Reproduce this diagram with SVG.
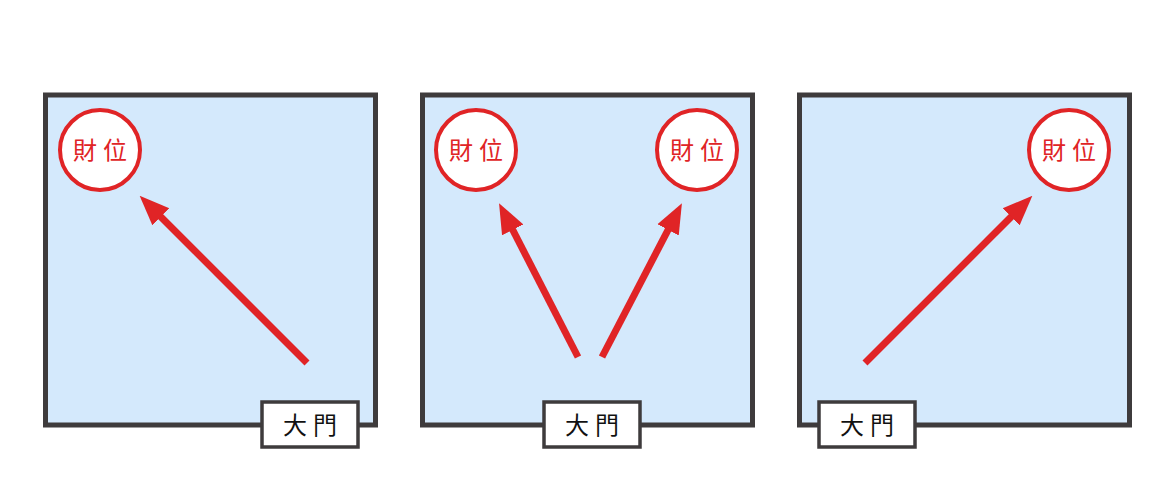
<svg xmlns="http://www.w3.org/2000/svg" width="1174" height="500" viewBox="0 0 1174 500">
<style>
.room{fill:#d4e9fc;stroke:#3e3b3c;stroke-width:5}
.door{fill:#fff;stroke:#3e3b3c;stroke-width:3.5}
.dt{font-family:"Noto Sans CJK TC","Noto Sans CJK SC",sans-serif;font-size:24px;fill:#111;text-anchor:middle;letter-spacing:6px}
.spot{fill:#fff;stroke:#e02426;stroke-width:4}
.st{font-family:"Noto Sans CJK TC","Noto Sans CJK SC",sans-serif;font-size:24px;fill:#e02426;text-anchor:middle;letter-spacing:6px}
.arr{stroke:#e02426;stroke-width:7;fill:none;marker-end:url(#ah)}
</style>
<defs><marker id="ah" markerUnits="userSpaceOnUse" markerWidth="30" markerHeight="30" viewBox="0 0 30 30" refX="20" refY="15" orient="auto"><path d="M0,3 L30,15 L0,27 Z" fill="#e02426"/></marker></defs>
<g id="room1"><rect class="room" x="45.5" y="95" width="330" height="330"/></g>
<g id="room2"><rect class="room" x="422.5" y="95" width="330" height="330"/></g>
<g id="room3"><rect class="room" x="799.5" y="95" width="330" height="330"/></g>
<g id="door1"><rect class="door" x="262" y="402" width="96" height="45"/><text class="dt" x="313" y="434">大門</text></g>
<g id="door2"><rect class="door" x="544" y="402" width="96" height="45"/><text class="dt" x="595" y="434">大門</text></g>
<g id="door3"><rect class="door" x="819" y="402" width="96" height="45"/><text class="dt" x="870" y="434">大門</text></g>
<g id="spot1"><circle class="spot" cx="100" cy="150" r="40"/><text class="st" x="103" y="159">財位</text></g>
<g id="spot2"><circle class="spot" cx="476" cy="150" r="40"/><text class="st" x="479" y="159">財位</text></g>
<g id="spot3"><circle class="spot" cx="697" cy="150" r="40"/><text class="st" x="700" y="159">財位</text></g>
<g id="spot4"><circle class="spot" cx="1069" cy="150" r="40"/><text class="st" x="1072" y="159">財位</text></g>
<g id="connectors">
<line class="arr" x1="307" y1="363" x2="146.7" y2="202.7"/>
<line class="arr" x1="578" y1="357" x2="503.6" y2="212.1"/>
<line class="arr" x1="602" y1="357" x2="677.3" y2="212.1"/>
<line class="arr" x1="865" y1="363" x2="1025.3" y2="202.7"/>
</g>
</svg>
